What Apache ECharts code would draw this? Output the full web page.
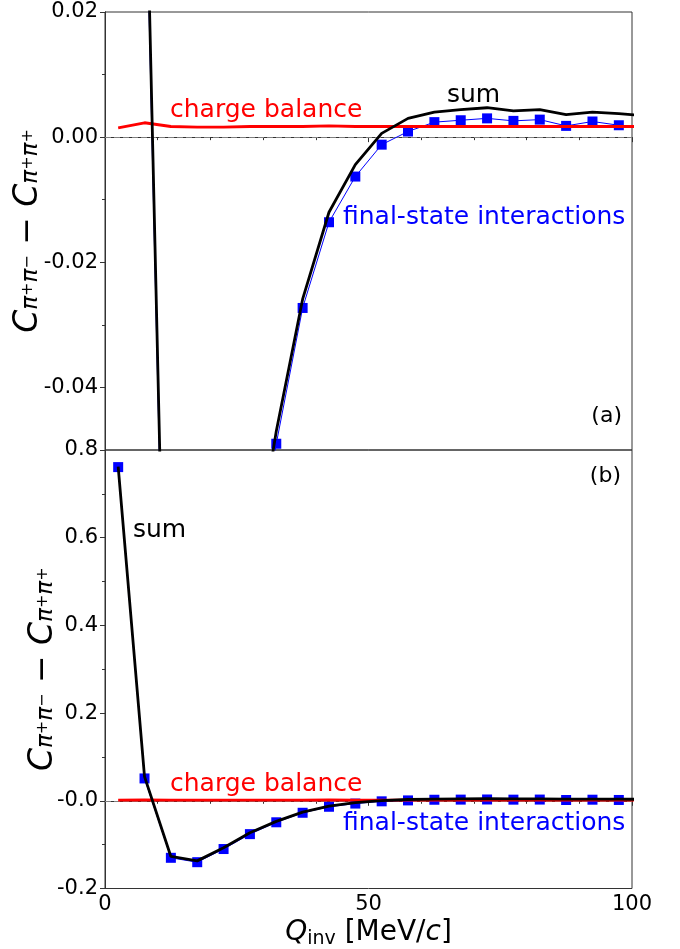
<!DOCTYPE html>
<html>
<head>
<meta charset="utf-8">
<script src="https://cdn.jsdelivr.net/npm/echarts@6/dist/echarts.min.js"></script>
<style>
html,body{margin:0;padding:0;background:#fff;}
#c{width:680px;height:949px;}
</style>
</head>
<body>
<div id="c"></div>
<script>
// Q_inv bin centres (MeV/c)
var qBins = [2.5, 7.5, 12.5, 17.5, 22.5, 27.5, 32.5, 37.5, 42.5, 47.5, 52.5, 57.5, 62.5, 67.5, 72.5, 77.5, 82.5, 87.5, 92.5, 97.5];
var qExt = qBins.concat([102.5]);
// final-state interactions (blue squares)
var fsiValues = [0.761, 0.051, -0.130, -0.140, -0.110, -0.076, -0.049, -0.0273, -0.0136, -0.0063, -0.0012, 0.0009, 0.0024, 0.0027, 0.0030, 0.0026, 0.0028, 0.0018, 0.0025, 0.0019];
// charge balance (red)
var cbValues = [0.0015, 0.0023, 0.0017, 0.0016, 0.0016, 0.0017, 0.0017, 0.0017, 0.0018, 0.0017, 0.0017, 0.0017, 0.0017, 0.0017, 0.0017, 0.0017, 0.0017, 0.0017, 0.0017, 0.0017, 0.0017];
// sum (black)
var sumValues = [0.762, 0.055, -0.127, -0.137, -0.107, -0.073, -0.047, -0.0259, -0.0120, -0.0044, 0.0006, 0.0030, 0.0040, 0.0044, 0.0047, 0.0042, 0.0044, 0.0036, 0.0040, 0.00375, 0.0034];
// tick labels
var xTicks = [0, 50, 100];
var yTicksTop = [0.02, 0.00, -0.02, -0.04];
var yTicksBottom = [0.8, 0.6, 0.4, 0.2, 0.0, -0.2];

var FONT = '"DejaVu Sans", sans-serif';
var AX = '#333';

function pairs(xs, ys) { return ys.map(function (v, i) { return [xs[i], v]; }); }

var yName = '{c|C}{p|π}{sp|+}{p|π}{sp|−}{m| − }{c|C}{p|π}{sp|+}{p|π}{sp|+}';
var yRich = {
  c: {fontSize: 33, fontStyle: 'italic', fontFamily: FONT, color: '#000', lineHeight: 30, verticalAlign: 'middle'},
  p: {fontSize: 23, fontStyle: 'italic', fontFamily: FONT, color: '#000', lineHeight: 12, verticalAlign: 'bottom'},
  sp: {fontSize: 16, fontFamily: FONT, color: '#000', lineHeight: 16, verticalAlign: 'middle'},
  m: {fontSize: 33, fontFamily: FONT, color: '#000', lineHeight: 30, verticalAlign: 'middle'}
};

function xAxisCfg(gridIndex, labels) {
  return {
    type: 'value', gridIndex: gridIndex, min: 0, max: 100, interval: 50, position: 'bottom',
    axisLine: {show: true, lineStyle: {color: AX, width: 1}},
    axisTick: {show: true, length: 5, lineStyle: {color: AX}},
    minorTick: {show: true, splitNumber: 5, length: 3, lineStyle: {color: AX}},
    splitLine: {show: false}, minorSplitLine: {show: false},
    axisLabel: {show: labels, fontSize: 21, fontFamily: FONT, color: '#000', margin: 6,
      formatter: function (v) { return xTicks.indexOf(v) >= 0 ? String(v) : ''; }}
  };
}

var option = {
  animation: false,
  backgroundColor: '#fff',
  grid: [
    {left: 105, right: 48, top: 12, height: 438, show: true, borderColor: AX, borderWidth: 1, outerBoundsMode: 'none', containLabel: false},
    {left: 105, right: 48, top: 450, height: 438.5, show: true, borderColor: AX, borderWidth: 1, outerBoundsMode: 'none', containLabel: false}
  ],
  xAxis: [
    xAxisCfg(0, false),
    Object.assign(xAxisCfg(1, true), {
      name: '{q|Q}{s|inv} [MeV/{i|c}]',
      nameLocation: 'middle', nameGap: 28, nameMoveOverlap: false,
      nameTextStyle: {fontSize: 28, fontFamily: FONT, color: '#000', lineHeight: 32,
        rich: {
          q: {fontSize: 28, fontStyle: 'italic', fontFamily: FONT, color: '#000', lineHeight: 32},
          s: {fontSize: 19, fontFamily: FONT, color: '#000', lineHeight: 14, verticalAlign: 'bottom'},
          i: {fontSize: 28, fontStyle: 'italic', fontFamily: FONT, color: '#000', lineHeight: 32}
        }}
    })
  ],
  yAxis: [
    // minor ticks for top panel
    {type: 'value', gridIndex: 0, position: 'left', offset: 0, min: -0.05, max: 0.02, interval: 0.01,
      axisLine: {show: true, lineStyle: {color: AX}},
      axisTick: {show: true, length: 3, lineStyle: {color: AX}},
      axisLabel: {show: false}, splitLine: {show: false}},
    // major ticks + labels for top panel
    {type: 'value', gridIndex: 0, position: 'left', offset: 0, min: -0.05, max: 0.02, splitNumber: 4,
      axisLine: {show: true, lineStyle: {color: AX}},
      axisTick: {show: true, length: 5, lineStyle: {color: AX}},
      splitLine: {show: false},
      axisLabel: {show: true, showMinLabel: false, fontSize: 21, fontFamily: FONT, color: '#000', margin: 7,
        formatter: function (v) {
          for (var k = 0; k < yTicksTop.length; k++) if (Math.abs(v - yTicksTop[k]) < 1e-9) return yTicksTop[k].toFixed(2);
          return '';
        }},
      name: yName, nameLocation: 'middle', nameRotate: 90, nameGap: 62, nameMoveOverlap: false,
      nameTextStyle: {rich: yRich}},
    {type: 'value', gridIndex: 1, position: 'left', min: -0.2, max: 0.8, interval: 0.2,
      axisLine: {show: true, lineStyle: {color: AX}},
      axisTick: {show: true, length: 5, lineStyle: {color: AX}},
      minorTick: {show: true, splitNumber: 2, length: 3, lineStyle: {color: AX}},
      splitLine: {show: false}, minorSplitLine: {show: false},
      axisLabel: {show: true, fontSize: 21, fontFamily: FONT, color: '#000', margin: 7,
        formatter: function (v) {
          for (var k = 0; k < yTicksBottom.length; k++) if (Math.abs(v - yTicksBottom[k]) < 1e-9) return Math.abs(v) < 1e-9 ? '-0.0' : yTicksBottom[k].toFixed(1);
          return '';
        }},
      name: yName, nameLocation: 'middle', nameRotate: 90, nameGap: 47, nameMoveOverlap: false,
      nameTextStyle: {rich: yRich}}
  ],
  series: []
};

[[0, 1], [1, 2]].forEach(function (ax) {
  var xi = ax[0], yi = ax[1];
  option.series.push({
    type: 'line', xAxisIndex: xi, yAxisIndex: yi, data: pairs(qBins, fsiValues), z: 2,
    symbol: 'rect', symbolSize: 10, showAllSymbol: true, clip: true,
    itemStyle: {color: '#0000ff'}, lineStyle: {color: '#0000ff', width: 1},
    markLine: {silent: true, symbol: ['none', 'none'], label: {show: false}, z: 1,
      lineStyle: {color: '#808080', width: 1, type: [6, 3]}, data: [{yAxis: 0}]}
  });
  option.series.push({
    type: 'line', xAxisIndex: xi, yAxisIndex: yi, data: pairs(qExt, cbValues), z: 3,
    showSymbol: false, clip: true, lineStyle: {color: '#ff0000', width: 2.8}
  });
  option.series.push({
    type: 'line', xAxisIndex: xi, yAxisIndex: yi, data: pairs(qExt, sumValues), z: 4,
    showSymbol: false, clip: true, lineStyle: {color: '#000000', width: 2.8}
  });
});

function txt(s, x, y, color, size, align) {
  return {type: 'text', x: x, y: y, z: 10, silent: true,
    style: {text: s, fill: color, font: size + 'px ' + FONT, align: align || 'left', verticalAlign: 'middle',
      textAlign: align || 'left', textVerticalAlign: 'middle'}};
}
option.graphic = [
  txt('charge balance', 170, 110, '#ff0000', 25),
  txt('sum', 447, 95, '#000000', 25),
  txt('final-state interactions', 343, 217, '#0000ff', 25),
  txt('(a)', 622, 416, '#000000', 22, 'right'),
  txt('(b)', 621, 476, '#000000', 22, 'right'),
  txt('sum', 133, 530, '#000000', 25),
  txt('charge balance', 170, 784, '#ff0000', 25),
  txt('final-state interactions', 343, 823, '#0000ff', 25)
];

var chart = echarts.init(document.getElementById('c'), null, {renderer: 'canvas'});
chart.setOption(option);
</script>
</body>
</html>
